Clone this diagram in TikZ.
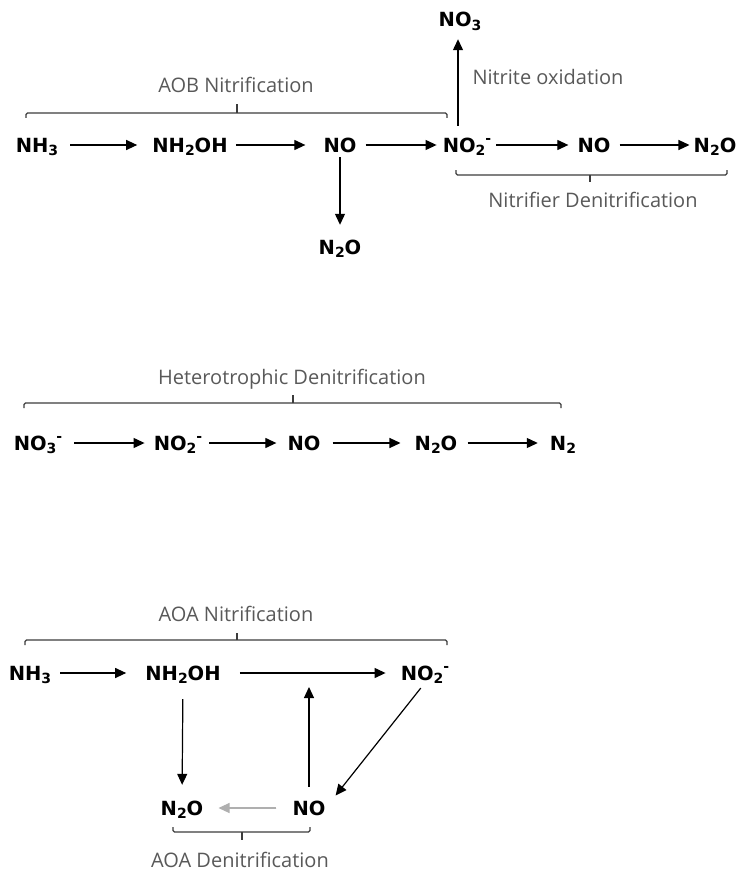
\documentclass[tikz,border=0pt]{standalone}
\usepackage{fontspec}
\setmainfont{DejaVu Sans}
\newfontfamily\labelfont{Open Sans}
\usetikzlibrary{arrows.meta}
\definecolor{lblgray}{RGB}{89,89,89}
\definecolor{brgray}{RGB}{60,60,60}
\definecolor{arrgray}{RGB}{175,175,175}
\newcommand\sbs[1]{\raisebox{-0.35ex}{\fontsize{14}{14}\selectfont #1}}
\newcommand\sps{\raisebox{0.8ex}{\fontsize{14}{14}\selectfont -}}
\begin{document}
\begin{tikzpicture}[x=1pt,y=-1pt,
 chem/.style={font=\fontsize{19.5}{21}\selectfont\bfseries, inner sep=0pt, text height=14pt, text depth=0pt, anchor=center},
 lbl/.style={font=\labelfont\fontsize{20}{22}\selectfont, text=lblgray, inner sep=0pt, text height=14pt, text depth=0pt, anchor=center},
 arr/.style={-{Triangle[length=11pt,width=10pt]}, line width=1.2pt},
 brace/.style={draw=brgray, line width=1.2pt, rounded corners=1.5pt}]
\useasboundingbox[fill=white] (0,0) rectangle (741,872);

% ---------- AOB section ----------
\node[chem] (nh3a)  at (37,145)  {NH\sbs{3}};
\node[chem] (nh2oha) at (190,145) {NH\sbs{2}OH};
\node[chem] (noa)   at (340,145) {NO};
\node[chem] (no2a)  at (467,145) {NO\sbs{2}\sps};
\node[chem] (noa2)  at (594,145) {NO};
\node[chem] (n2oa)  at (715,145) {N\sbs{2}O};
\node[chem] (n2oa1) at (340,247) {N\sbs{2}O};
\node[chem] (no3a)  at (460,20)  {NO\sbs{3}};

\node[lbl] (lAOB) at (236,86) {AOB Nitrification};
\node[lbl] (lNO)  at (548,78) {Nitrite oxidation};
\node[lbl] (lND)  at (593,200) {Nitrifier Denitrification};

\draw[arr, shorten <=12pt, shorten >=15pt] (nh3a.east) -- (nh2oha.west);
\draw[arr, shorten <=8pt, shorten >=18pt] (nh2oha.east) -- (noa.west);
\draw[arr, shorten <=9pt, shorten >=6pt] (noa.east) -- (no2a.west);
\draw[arr, shorten <=5pt, shorten >=9pt] (no2a.east) -- (noa2.west);
\draw[arr, shorten <=9pt, shorten >=4pt] (noa2.east) -- (n2oa.west);
\draw[arr, shorten <=5pt, shorten >=15pt] (noa.south) -- (n2oa1.north);
\draw[arr, shorten <=12pt, shorten >=12pt] ([xshift=-9pt]no2a.north) -- ([xshift=-9pt]no2a.north |- no3a.south);

\draw[brace] (26,118) -- (26,113) -- (447,113) -- (447,118);
\draw[brace] (237,113) -- (237,104);
\draw[brace] (456,170) -- (456,175) -- (727,175) -- (727,170);
\draw[brace] (590,175) -- (590,182);

% ---------- Heterotrophic section ----------
\node[lbl] (lHD) at (292,377) {Heterotrophic Denitrification};
\draw[brace] (24,408) -- (24,403) -- (561,403) -- (561,408);
\draw[brace] (293,403) -- (293,395);

\node[chem] (no3m) at (38,443)  {NO\sbs{3}\sps};
\node[chem] (no2m) at (178,443) {NO\sbs{2}\sps};
\node[chem] (nom)  at (304,443) {NO};
\node[chem] (n2om) at (436,443) {N\sbs{2}O};
\node[chem] (n2m)  at (563,443) {N\sbs{2}};

\draw[arr, shorten <=12pt, shorten >=9pt] (no3m.east) -- (no2m.west);
\draw[arr, shorten <=7pt, shorten >=11pt] (no2m.east) -- (nom.west);
\draw[arr, shorten <=12pt, shorten >=14pt] (nom.east) -- (n2om.west);
\draw[arr, shorten <=10pt, shorten >=12pt] (n2om.east) -- (n2m.west);

% ---------- AOA section ----------
\node[lbl] (lAOA) at (236,614) {AOA Nitrification};
\draw[brace] (25,645) -- (25,640) -- (447,640) -- (447,645);
\draw[brace] (237,640) -- (237,633);

\node[chem] (nh3b)   at (30,673)  {NH\sbs{3}};
\node[chem] (nh2ohb) at (183,673) {NH\sbs{2}OH};
\node[chem] (no2b)   at (425,673) {NO\sbs{2}\sps};
\node[chem] (n2ob)   at (182,808) {N\sbs{2}O};
\node[chem] (nob)    at (309,808) {NO};
\coordinate (upend) at (310,687);

\draw[arr, shorten <=9pt, shorten >=19pt] (nh3b.east) -- (nh2ohb.west);
\draw[arr, shorten <=19pt, shorten >=15pt] (nh2ohb.east) -- (no2b.west);
\draw[arr, shorten <=19pt, shorten >=16pt] (nh2ohb.south) -- (n2ob.north);
\draw[arr, shorten <=14pt] (nob.north) -- (nob.north |- upend);
\draw[arr, shorten <=10pt, shorten >=16pt] ([xshift=2pt]no2b.south) -- (nob.east);
\draw[arr, draw=arrgray, fill=arrgray, line width=1.1pt, shorten <=16pt, shorten >=15pt] (nob.west) -- (n2ob.east);

\draw[brace] (173,827) -- (173,832) -- (310,832) -- (310,827);
\draw[brace] (242,832) -- (242,840);
\node[lbl] (lAD) at (240,860) {AOA Denitrification};
\end{tikzpicture}
\end{document}
